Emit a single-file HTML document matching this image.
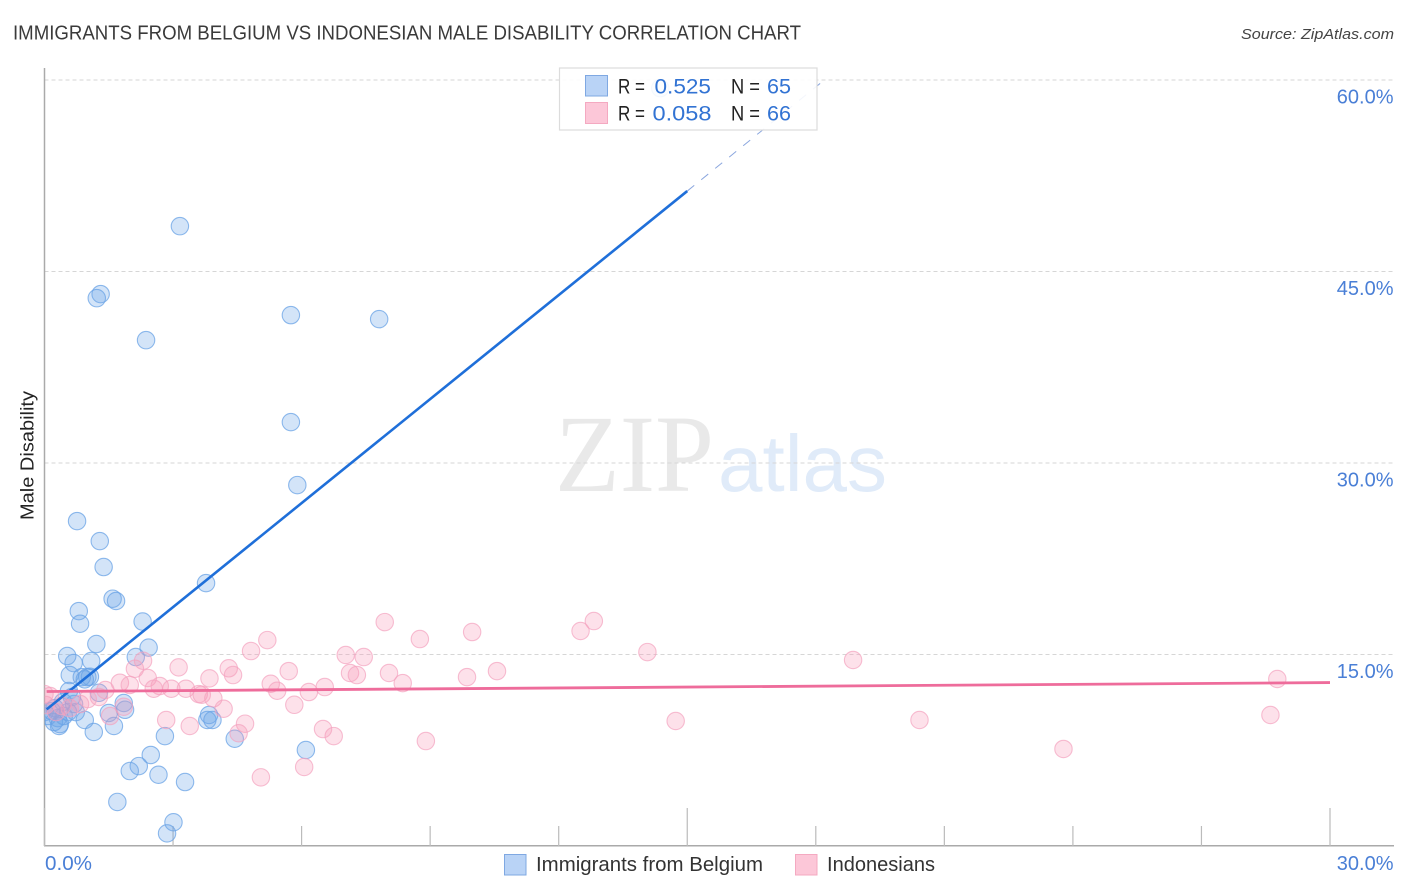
<!DOCTYPE html>
<html lang="en">
<head>
<meta charset="utf-8">
<title>Immigrants from Belgium vs Indonesian Male Disability Correlation Chart</title>
<style>
html,body{margin:0;padding:0;background:#fff;width:1406px;height:892px;overflow:hidden}
svg{display:block;font-family:"Liberation Sans",Arial,sans-serif}
</style>
</head>
<body>
<svg id="chart" xmlns="http://www.w3.org/2000/svg" width="1406" height="892" viewBox="0 0 1406 892">
  <defs>
    <clipPath id="plot-clip"><rect x="44.5" y="60" width="1350" height="786"/></clipPath>
  </defs>
  <rect x="0" y="0" width="1406" height="892" fill="#fff"/>
  <text x="13" y="39.5" font-size="20" fill="#3a3a3a" textLength="788" lengthAdjust="spacingAndGlyphs">IMMIGRANTS FROM BELGIUM VS INDONESIAN MALE DISABILITY CORRELATION CHART</text>
  <text x="1394" y="39" font-size="15" font-style="italic" fill="#444" text-anchor="end" textLength="153" lengthAdjust="spacingAndGlyphs">Source: ZipAtlas.com</text>
  <g>
    <text x="555" y="491" font-family="'Liberation Serif',serif" font-size="110" fill="#e9e9e9" textLength="159" lengthAdjust="spacingAndGlyphs">ZIP</text>
    <text x="718" y="491" font-size="80" fill="#e0ebf9" textLength="169" lengthAdjust="spacingAndGlyphs">atlas</text>
  </g>
  <g id="grid"></g>
  <g id="axes"></g>
  <g id="blue-points" clip-path="url(#plot-clip)"></g>
  <g id="pink-points" clip-path="url(#plot-clip)"></g>
  <g id="trends"></g>
  <text transform="translate(33.5,455.5) rotate(-90)" font-size="18.5" fill="#222" text-anchor="middle" textLength="129" lengthAdjust="spacingAndGlyphs">Male Disability</text>
  <g id="tick-labels"></g>

  <g>
    <rect x="559.5" y="68" width="257.5" height="62" fill="#fff" fill-opacity="0.9" stroke="#dcdcdc" stroke-width="1.2"/>
    <rect x="585.5" y="75.5" width="22" height="20.5" fill="#b9d3f6" stroke="#7fa8e2" stroke-width="1"/>
    <rect x="585.5" y="102.5" width="22" height="21" fill="#fcc7d8" stroke="#f4a9c1" stroke-width="1"/>
    <g font-size="21">
      <text x="618" y="93.5" fill="#222" textLength="27" lengthAdjust="spacingAndGlyphs">R =</text>
      <text x="654.5" y="93.5" fill="#3273d3" textLength="56.5" lengthAdjust="spacingAndGlyphs">0.525</text>
      <text x="731" y="93.5" fill="#222" textLength="29" lengthAdjust="spacingAndGlyphs">N =</text>
      <text x="767" y="93.5" fill="#3273d3" textLength="24" lengthAdjust="spacingAndGlyphs">65</text>
      <text x="618" y="120.5" fill="#222" textLength="27" lengthAdjust="spacingAndGlyphs">R =</text>
      <text x="652.5" y="120.5" fill="#3273d3" textLength="59" lengthAdjust="spacingAndGlyphs">0.058</text>
      <text x="731" y="120.5" fill="#222" textLength="29" lengthAdjust="spacingAndGlyphs">N =</text>
      <text x="767" y="120.5" fill="#3273d3" textLength="24" lengthAdjust="spacingAndGlyphs">66</text>
    </g>
  </g>

  <g>
    <rect x="504.5" y="854.5" width="21.5" height="20.5" fill="#b9d3f6" stroke="#7fa8e2" stroke-width="1"/>
    <text x="536" y="871" font-size="20" fill="#333" textLength="227" lengthAdjust="spacingAndGlyphs">Immigrants from Belgium</text>
    <rect x="795.5" y="854.5" width="21.5" height="20.5" fill="#fcc7d8" stroke="#f4a9c1" stroke-width="1"/>
    <text x="827" y="871" font-size="20" fill="#333" textLength="108" lengthAdjust="spacingAndGlyphs">Indonesians</text>
  </g>
</svg>
<script>
const yTickValues = [15, 30, 45, 60];
const yTickLabels = ["15.0%", "30.0%", "45.0%", "60.0%"];
const xTickValues = [0, 3, 6, 9, 12, 15, 18, 21, 24, 27, 30];
const xTickMajor = [0, 15, 30];
const xEndLabels = ["0.0%", "30.0%"];

const blueX = [3.16,1.31,1.22,2.37,5.75,7.81,5.75,5.90,0.76,1.29,1.38,3.77,1.59,1.67,0.80,0.83,2.29,1.21,2.43,2.13,0.53,0.68,1.09,0.59,0.87,1.06,1.00,0.94,0.57,1.27,1.85,1.88,1.50,0.94,1.62,1.15,2.81,3.84,3.80,3.92,4.44,2.48,6.10,2.20,1.99,2.66,3.28,1.70,3.01,2.86,14.37,0.00,0.08,0.17,0.24,0.31,0.22,0.34,0.36,0.45,0.55,0.43,0.69,0.73,0.64];
const blueY = [48.55,43.23,42.91,39.62,41.58,41.27,33.20,28.27,25.45,23.88,21.85,20.59,19.37,19.19,18.40,17.41,17.58,15.82,15.54,14.80,14.88,14.33,14.49,13.39,13.23,13.26,13.23,13.05,12.14,12.00,11.20,10.67,10.42,9.87,9.40,8.93,8.61,10.26,9.87,9.87,8.40,7.13,7.52,6.26,5.87,5.58,5.01,3.45,1.86,0.99,59.36,10.49,10.18,10.57,10.80,10.02,9.71,9.40,9.55,10.18,10.49,11.28,11.12,10.49,11.67];

const pinkX = [5.20,4.82,5.70,5.28,5.43,5.83,4.30,4.40,3.85,3.13,2.30,2.11,2.41,1.76,1.99,1.42,2.69,2.55,2.96,3.30,3.60,3.67,3.94,4.18,4.68,4.53,3.39,2.84,5.05,6.06,1.27,1.85,1.53,7.94,8.76,9.98,12.51,12.82,14.07,18.87,28.77,28.61,20.42,23.78,14.73,8.90,6.75,6.50,6.17,6.54,7.03,7.45,7.13,7.29,8.04,8.36,9.86,10.56,0.03,0.13,0.27,0.41,0.59,0.83,1.01,0.00];
const pinkY = [16.13,15.27,13.70,12.71,12.16,11.06,13.92,13.39,13.13,13.99,14.51,13.88,13.16,12.79,12.61,12.22,12.53,12.32,12.32,12.32,11.90,11.85,11.57,10.75,9.58,8.83,9.40,9.87,5.38,6.19,11.67,10.91,10.18,17.54,16.21,16.76,16.84,17.62,15.19,14.57,13.08,10.26,9.87,7.60,9.79,8.22,8.61,9.16,12.06,12.45,14.96,14.80,13.55,13.39,13.55,12.76,13.23,13.70,11.04,11.75,10.49,10.96,10.80,11.12,11.51,11.90];

const blueTrendX = [0.05, 15.0];
const blueTrendY = [10.7, 51.3];
const blueDashX = [15.0, 18.2];
const blueDashY = [51.3, 60.0];
const pinkTrendX = [0.05, 30.0];
const pinkTrendY = [12.1, 12.8];

const NS = "http://www.w3.org/2000/svg";
function xScale(v) { return 44.5 + v * (1330 - 44.5) / 30; }
function yScale(v) { return 846 - v * (846 - 80) / 60; }
function make(tag, attrs, parent) {
  const el = document.createElementNS(NS, tag);
  for (const k in attrs) el.setAttribute(k, attrs[k]);
  parent.appendChild(el);
  return el;
}

const grid = document.getElementById("grid");
const axes = document.getElementById("axes");
const labels = document.getElementById("tick-labels");

yTickValues.forEach(function (v, i) {
  const line = make("line", {x1: 44.5, x2: 1394, y1: yScale(v), y2: yScale(v), stroke: "#d6d6d6", "stroke-width": 1, "stroke-dasharray": "4 3"}, grid);
  
  
  const t = make("text", {x: 1393.5, y: yScale(v) + 23.5, "font-size": 20, fill: "#4a7fd6", "text-anchor": "end"}, labels);
  t.textContent = yTickLabels[i];
  
  
});

const yAxis = make("line", {x1: 44.5, x2: 44.5, y1: 68, y2: 846, stroke: "#aaa", "stroke-width": 1.5}, axes);


const xAxis = make("line", {x1: 44, x2: 1394, y1: 845.7, y2: 845.7, stroke: "#aaa", "stroke-width": 1.5}, axes);



xTickValues.forEach(function (v) {
  const top = xTickMajor.indexOf(v) >= 0 ? 808 : 826;
  const tick = make("line", {x1: xScale(v), x2: xScale(v), y1: top, y2: 846, stroke: "#bbb", "stroke-width": 1.2}, axes);
  
  
});

const x0Label = make("text", {x: 45, y: 870, "font-size": 20, fill: "#4a7fd6", textLength: 47, lengthAdjust: "spacingAndGlyphs"}, labels);
x0Label.textContent = xEndLabels[0];


const x1Label = make("text", {x: 1393.5, y: 870, "font-size": 20, fill: "#4a7fd6", "text-anchor": "end"}, labels);
x1Label.textContent = xEndLabels[1];



const blueGroup = document.getElementById("blue-points");
blueX.forEach(function (v, i) {
  const c = make("circle", {cx: xScale(v), cy: yScale(blueY[i]), r: 8.7, fill: "#6ea6e8", "fill-opacity": 0.3, stroke: "#6aa3e6", "stroke-opacity": 0.75, "stroke-width": 1.1}, blueGroup);
  
  
});

const pinkGroup = document.getElementById("pink-points");
pinkX.forEach(function (v, i) {
  const c = make("circle", {cx: xScale(v), cy: yScale(pinkY[i]), r: 8.7, fill: "#f79cba", "fill-opacity": 0.3, stroke: "#f4a3bf", "stroke-opacity": 0.7, "stroke-width": 1.1}, pinkGroup);
  
  
});

const trends = document.getElementById("trends");
const blueLine = make("line", {x1: xScale(blueTrendX[0]), y1: yScale(blueTrendY[0]), x2: xScale(blueTrendX[1]), y2: yScale(blueTrendY[1]), stroke: "#1f6fd9", "stroke-width": 2.6}, trends);


const blueDash = make("line", {x1: xScale(blueDashX[0]), y1: yScale(blueDashY[0]), x2: xScale(blueDashX[1]), y2: yScale(blueDashY[1]), stroke: "#8aa6de", "stroke-width": 1, "stroke-dasharray": "9 9"}, trends);


const pinkLine = make("line", {x1: xScale(pinkTrendX[0]), y1: yScale(pinkTrendY[0]), x2: xScale(pinkTrendX[1]), y2: yScale(pinkTrendY[1]), stroke: "#ee6c9b", "stroke-width": 2.8}, trends);


</script>
</body>
</html>
